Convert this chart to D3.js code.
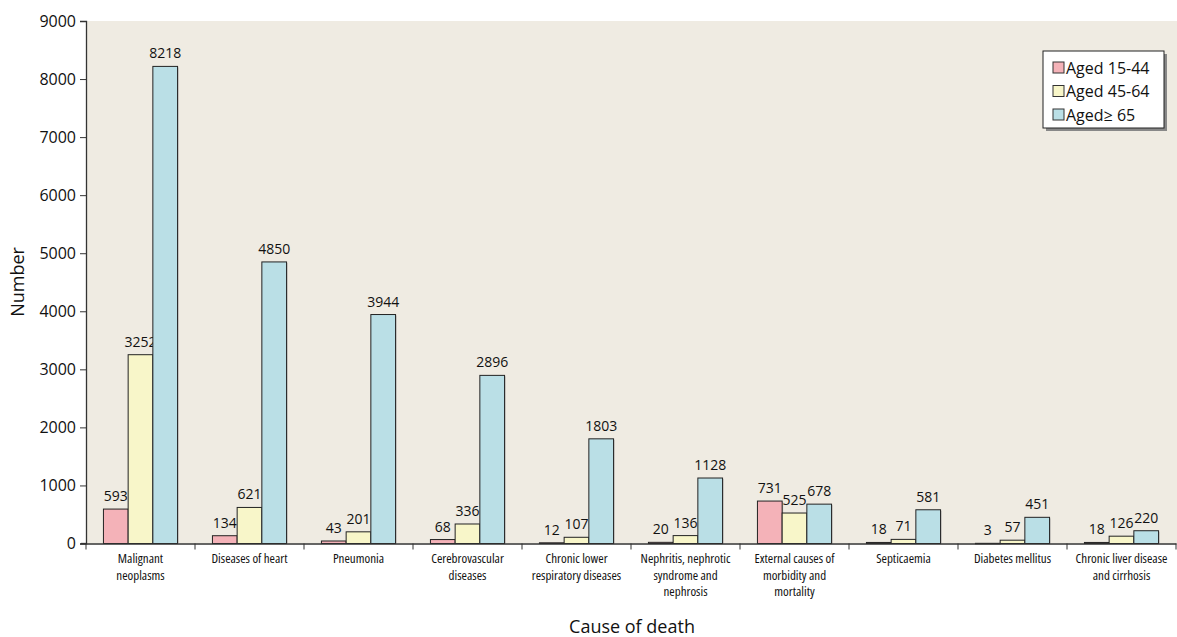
<!DOCTYPE html>
<html><head><meta charset="utf-8">
<script src="https://cdn.jsdelivr.net/npm/d3@7"></script>
<style>
body{margin:0;background:#fff;}
svg{display:block;font-family:"Open Sans","Noto Sans",sans-serif;}
.cat{font-family:"Liberation Sans Narrow","Open Sans",sans-serif;font-stretch:condensed;}
</style></head>
<body><svg id="c" width="1177" height="637"></svg>
<script>
const categories = [
  ["Malignant","neoplasms"],
  ["Diseases of heart"],
  ["Pneumonia"],
  ["Cerebrovascular","diseases"],
  ["Chronic lower","respiratory diseases"],
  ["Nephritis, nephrotic","syndrome and","nephrosis"],
  ["External causes of","morbidity and","mortality"],
  ["Septicaemia"],
  ["Diabetes mellitus"],
  ["Chronic liver disease","and cirrhosis"]
];
const seriesNames = ["Aged 15-44","Aged 45-64","Aged\u2265 65"];
const aged15_44 = [593,134,43,68,12,20,731,18,3,18];
const aged45_64 = [3252,621,201,336,107,136,525,71,57,126];
const aged65 = [8218,4850,3944,2896,1803,1128,678,581,451,220];
const yTicks = [0,1000,2000,3000,4000,5000,6000,7000,8000,9000];
const colors = ["#f4b2b8","#f8f6c9","#badfe6"];

(function(){
const series = [aged15_44, aged45_64, aged65];
const svg = d3.select("#c");
const mLeft = 86, mRight = 1176, mTop = 21, mBottom = 543.5;

svg.append("rect").attr("x",mLeft).attr("y",mTop).attr("width",1177-mLeft).attr("height",mBottom-mTop).attr("fill","#efebe2");

const x = d3.scaleBand().domain(d3.range(categories.length)).range([mLeft,mRight]).paddingInner(0).paddingOuter(0);
const y = d3.scaleLinear().domain([0,9000]).range([mBottom,mTop]);
const gw = x.bandwidth()*0.68;
const xs = d3.scaleBand().domain([0,1,2]).range([0,gw]);

const ya = svg.append("g").attr("transform",`translate(${mLeft},0)`)
  .call(d3.axisLeft(y).tickValues(yTicks).tickSize(6).tickPadding(4).tickFormat(d3.format("d")));
ya.select(".domain").attr("stroke","#333").attr("stroke-width",1.3);
ya.selectAll(".tick line").attr("stroke","#333");
ya.selectAll("text").attr("font-size",16).attr("fill","#111").attr("font-family","'Open Sans',sans-serif");

categories.forEach((c,i)=>{
  const gx = x(i) + (x.bandwidth()-gw)/2;
  series.forEach((s,k)=>{
    const v = s[i];
    const bx = gx + xs(k);
    svg.append("rect").attr("x",bx+1).attr("y",y(v)+1).attr("width",xs.bandwidth()).attr("height",Math.max(0,mBottom-y(v)-1)).attr("fill","#888").attr("opacity",0.5);
    svg.append("rect").attr("x",bx).attr("y",y(v)).attr("width",xs.bandwidth()).attr("height",Math.max(0.5,mBottom-y(v)))
      .attr("fill",colors[k]).attr("stroke","#222").attr("stroke-width",1);
    svg.append("text").attr("x",bx+xs.bandwidth()/2).attr("y",y(v)-8).attr("text-anchor","middle")
      .attr("font-size",14).attr("fill","#111").text(v);
  });
});

const xa = svg.append("g").attr("transform",`translate(0,${mBottom})`)
  .call(d3.axisBottom(x).tickValues([]).tickSize(0));
xa.select(".domain").attr("stroke","#333").attr("stroke-width",1.3);
svg.append("line").attr("x1",mLeft-5).attr("x2",mLeft).attr("y1",mBottom).attr("y2",mBottom).attr("stroke","#333").attr("stroke-width",1.3);
const bounds = d3.range(categories.length+1).map(i=> i<categories.length ? x(i) : mRight);
svg.selectAll(".xt").data(bounds).enter().append("line")
  .attr("x1",d=>d).attr("x2",d=>d).attr("y1",mBottom).attr("y2",mBottom+6).attr("stroke","#333");

categories.forEach((c,i)=>{
  c.forEach((line,j)=>svg.append("text").attr("class","cat").attr("text-anchor","middle")
    .attr("x",x(i)+x.bandwidth()/2).attr("y",563+j*16.5).attr("font-size",13).attr("fill","#111").text(line));
});

svg.append("text").attr("x",632).attr("y",633).attr("text-anchor","middle").attr("font-size",18).attr("fill","#111").text("Cause of death");
svg.append("text").attr("transform","translate(24,282) rotate(-90)").attr("text-anchor","middle").attr("font-size",18).attr("fill","#111").text("Number");

const lg = svg.append("g");
lg.append("rect").attr("x",1046).attr("y",54).attr("width",121).attr("height",77).attr("fill","#888");
lg.append("rect").attr("x",1043).attr("y",51).attr("width",121).attr("height",77).attr("fill","#fff").attr("stroke","#222");
seriesNames.forEach((n,k)=>{
  const yy = 68 + k*23.5;
  lg.append("rect").attr("x",1053).attr("y",yy-6).attr("width",11).attr("height",11).attr("fill",colors[k]).attr("stroke","#333");
  lg.append("text").attr("x",1066).attr("y",yy+5.5).attr("font-size",16).attr("fill","#111").text(n);
});
})();
</script></body></html>
